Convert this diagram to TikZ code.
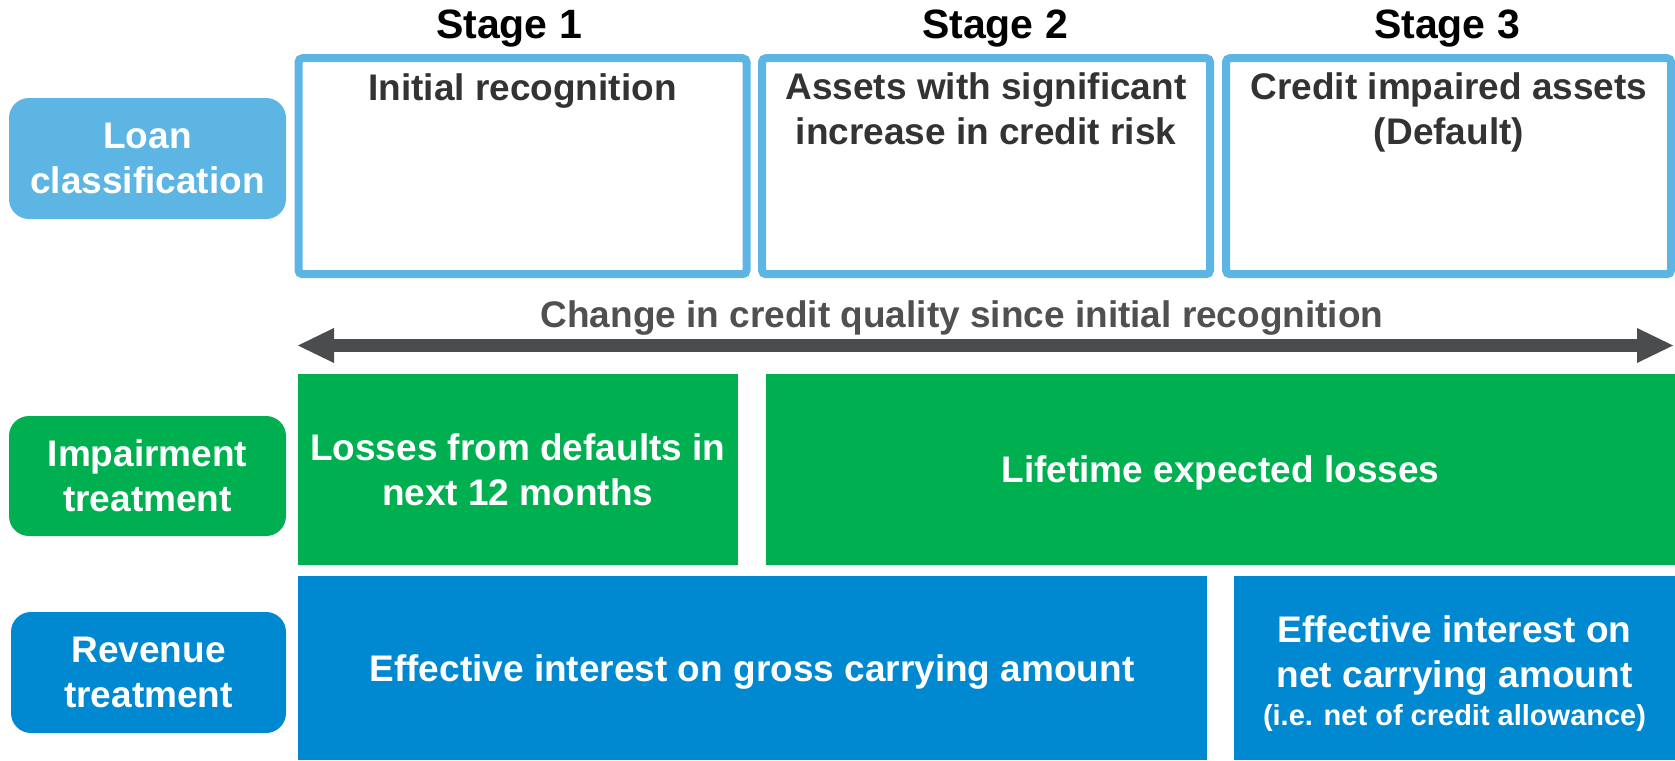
\documentclass[tikz,border=0pt]{standalone}
\usepackage{fontspec}
\setmainfont{Liberation Sans}
\usetikzlibrary{arrows.meta}
\definecolor{lblue}{HTML}{5DB5E4}
\definecolor{ggreen}{HTML}{00B050}
\definecolor{bblue}{HTML}{0088D1}
\definecolor{darktext}{HTML}{333333}
\definecolor{arrowgray}{HTML}{4B4C4E}
\definecolor{labelgray}{HTML}{505050}
\newcommand\mytitlefont{\fontsize{41}{49}\selectfont\bfseries}
\newcommand\myboxfont{\fontsize{37}{45}\selectfont\bfseries}
\newcommand\mysmallfont{\fontsize{29}{35}\selectfont\bfseries}
\begin{document}
\begin{tikzpicture}[x=1pt,y=-1pt,
  stagetitle/.style={anchor=base, font=\mytitlefont, text=black, inner sep=0pt},
  stagebox/.style={draw=lblue, line width=8pt, rounded corners=4pt, minimum width=448pt, minimum height=216pt, inner sep=0pt},
  stagetext/.style={anchor=base, font=\myboxfont, text=darktext, align=center, inner sep=0pt},
  catbox/.style={rounded corners=20pt, minimum width=277pt, minimum height=121pt, inner sep=0pt, font=\myboxfont, text=white, align=center},
  fillbox/.style={minimum height=191pt, inner sep=0pt, font=\myboxfont, text=white, align=center},
  scalearrow/.style={draw=arrowgray, line width=13pt,
    {Triangle[length=36pt,width=35pt,line width=0pt]}-{Triangle[length=36pt,width=35pt,line width=0pt]}}
]
\useasboundingbox (0,0) rectangle (1675,760);
\fill[white] (0,0) rectangle (1675,760);

% stage titles
\node[stagetitle] (t1) at (509,39) {Stage 1};
\node[stagetitle] (t2) at (995,39) {Stage 2};
\node[stagetitle] (t3) at (1447,39) {Stage 3};

% stage boxes
\node[stagebox] (s1) at (522.5,166.2) {};
\node[stagebox] (s2) at (986,166.2) {};
\node[stagebox, minimum width=445pt] (s3) at (1448.5,166.2) {};
\node[stagetext] (s1x) at (522.5,100) {Initial recognition};
\node[stagetext] (s2x) at (986,144) {Assets with significant\\increase in credit risk};
\node[stagetext] (s3x) at (1449,144) {Credit impaired assets\\(Default)};

% row labels
\node[catbox, fill=lblue] (loan) at (147.5,158.5) {Loan\\classification};
\node[catbox, fill=ggreen, minimum height=120pt] (imp) at (147.5,476) {Impairment\\treatment};
\node[catbox, fill=bblue, minimum width=275pt] (rev) at (148.5,672.5) {Revenue\\treatment};

% change arrow
\coordinate (al) at (298,345.5);
\coordinate (ar) at (1673,345.5);
\draw[scalearrow] (al) -- (ar);
\node[anchor=base, font=\myboxfont, text=labelgray, inner sep=0pt] (cq) at (962,327) {Change in credit quality since initial recognition};

% impairment row
\node[fillbox, fill=ggreen, minimum width=440.5pt] (g1) at (517.75,469.5) {Losses from defaults in\\next 12 months};
\node[fillbox, fill=ggreen, minimum width=909pt, text depth=0pt] (g2) at (1220.5,469.5) {Lifetime expected losses};

% revenue row
\node[fillbox, fill=bblue, minimum width=909pt, minimum height=184pt, text depth=0pt] (b1) at (752,668) {Effective interest on gross carrying amount};
\node[fillbox, fill=bblue, minimum width=441pt, minimum height=184pt] (b2) at (1454.5,668) {};
\node[font=\myboxfont, text=white, align=center, inner sep=0pt, anchor=base] (b2x) at (1454.5,725) {Effective interest on\\net carrying amount\\[-7pt]{\mysmallfont (i.e. net of credit allowance)}};
\end{tikzpicture}
\end{document}
